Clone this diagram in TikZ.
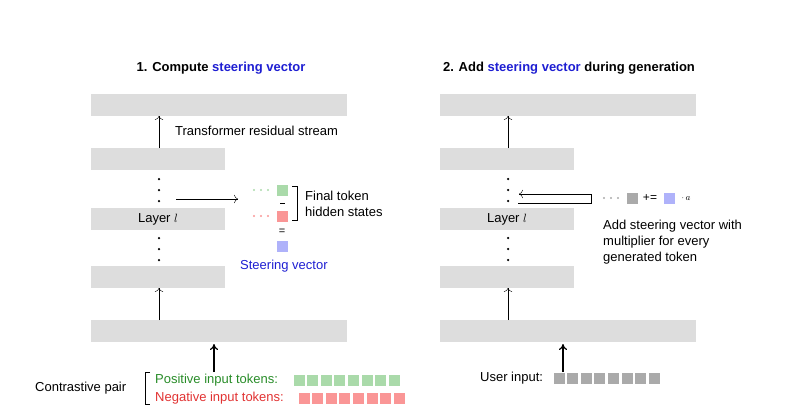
\documentclass[tikz,border=0pt]{standalone}
\usepackage{fontspec}
\setmainfont{Liberation Sans}
\usetikzlibrary{arrows.meta}
\definecolor{barcol}{RGB}{221,221,221}
\definecolor{posg}{RGB}{170,218,170}
\definecolor{negr}{RGB}{250,150,150}
\definecolor{vecb}{RGB}{175,178,250}
\definecolor{tokg}{RGB}{170,170,170}
\definecolor{tgreen}{RGB}{40,140,40}
\definecolor{tred}{RGB}{225,50,50}
\definecolor{tblue}{RGB}{30,30,210}
\tikzset{
	bar/.style = {fill=barcol, draw=none},
	sq/.style = {minimum size=11pt, inner sep=0pt},
	lbl/.style = {font=\fontsize{13}{16}\selectfont, anchor=west, inner sep=0pt},
	dot/.style = {circle, fill=black, inner sep=0pt, minimum size=2.5pt},
	tdot/.style = {circle, inner sep=0pt, minimum size=2.2pt}
}
\begin{document}
\begin{tikzpicture}[x=1pt, y=-1pt]
	\useasboundingbox (0,0) rectangle (801,418);
	%titles
	\node (t1) at (221,68) {\fontsize{13}{15}\selectfont\bfseries 1. Compute {\color{tblue}steering vector}};
	\node (t2) at (569,68) {\fontsize{13}{15}\selectfont\bfseries 2. Add {\color{tblue}steering vector} during generation};
	
	%stacks
	\foreach \s/\c in {0/L, 349/R}{
		\node[bar, minimum width=256pt, minimum height=22pt] (top\c) at (219+\s,105) {};
		\node[bar, minimum width=134pt, minimum height=22pt] (up\c) at (158+\s,159) {};
		\node[bar, minimum width=134pt, minimum height=22pt] (lay\c) at (158+\s,219) {\fontsize{13}{15}\selectfont Layer $l$};
		\node[bar, minimum width=134pt, minimum height=22pt] (low\c) at (158+\s,277) {};
		\node[bar, minimum width=256pt, minimum height=22pt] (bot\c) at (219+\s,331) {};
		\foreach \y in {179,190,201,238,249,260}
		\node[dot] at (159+\s,\y) {};
		\draw[-{To[length=4pt]}] (159+\s,320) -- (159+\s,288);
		\draw[-{To[length=4pt]}] (159+\s,148) -- (159+\s,116);
		\coordinate (in\c) at (214+\s,372);
		\draw[-{To[length=6pt,width=8pt]}, very thick] (in\c) -- (214+\s,344);
	}
	\node[lbl] (stream) at (175,131) {Transformer residual stream};
	
	%left: hidden states
	\coordinate (hs) at (176,199);
	\coordinate (he) at (238,199);
	\draw[-{To[length=4pt]}] (hs) -- (he);
	\node[sq, fill=posg] (gsq) at (282,190) {};
	\node[sq, fill=negr] (rsq) at (282,216) {};
	\node[sq, fill=vecb] (bsq) at (282,246) {};
	\foreach \x in {254,261,268}{
		\node[tdot, fill=posg] at (\x,190) {};
		\node[tdot, fill=negr] at (\x,216) {};
	}
	\draw[thick] (280,203) -- (285,203);
	\node (eq) at (282,232) {\fontsize{11}{11}\selectfont =};
	\draw[thick] (292,186) -- (297,186) -- (297,220) -- (292,220);
	\node[lbl, align=left] (final) at (305,204) {Final token\\hidden states};
	\node[lbl, text=tblue] (sv) at (240,266) {Steering vector};
	
	%contrastive pair
	\node[lbl] (cp) at (35,388) {Contrastive pair};
	\draw[thick] (150,372) -- (145,372) -- (145,404) -- (150,404);
	\node[lbl, text=tgreen] (pos) at (155,380) {Positive input tokens:};
	\node[lbl, text=tred] (neg) at (155,398) {Negative input tokens:};
	\foreach \i in {0,...,7}{
		\node[sq, fill=posg] at (299+13.6*\i,380) {};
		\node[sq, fill=negr] at (304+13.6*\i,398) {};
		\node[sq, fill=tokg] at (559+13.6*\i,378) {};
	}
	
	%right: adding
	\coordinate (ae) at (519,194);
	\draw[-{To[length=4pt]}] (518,203) -- (591,203) -- (591,194) -- (ae);
	\foreach \x in {604,611,618}
	\node[tdot, fill=tokg] at (\x,198) {};
	\node[sq, fill=tokg] (gtok) at (632,198) {};
	\node (pluseq) at (650,198) {\fontsize{12}{12}\selectfont +=};
	\node[sq, fill=vecb] (btok) at (669,198) {};
	\node (mult) at (686,198) {\fontsize{9}{9}\selectfont $\cdot\, a$};
	\node[lbl, align=left] (addtxt) at (603,242) {Add steering vector with\\multiplier for every\\generated token};
	\node[lbl] (ui) at (480,378) {User input:};
\end{tikzpicture}
\end{document}
